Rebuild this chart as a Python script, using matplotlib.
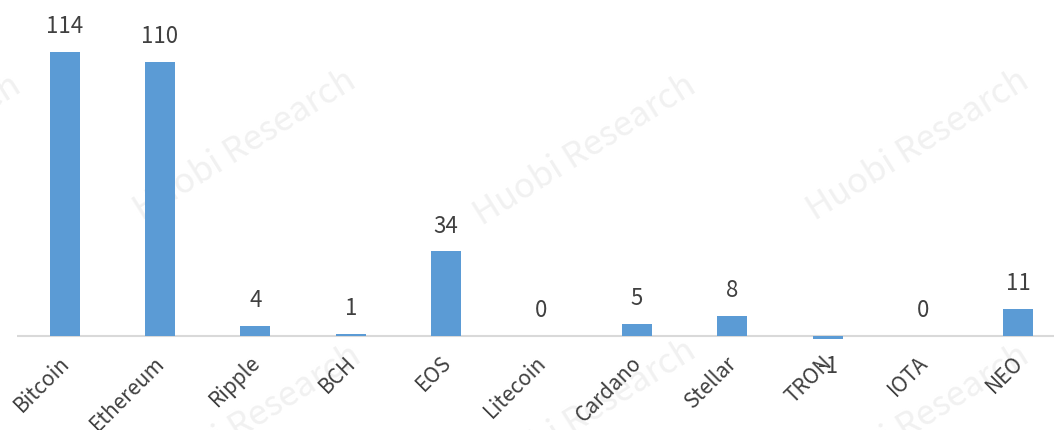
import matplotlib.pyplot as plt
import matplotlib.transforms as mtransforms
import numpy as np

plt.rcParams['font.family'] = ['Noto Sans CJK SC', 'DejaVu Sans']

# data
coins = ['Bitcoin', 'Ethereum', 'Ripple', 'BCH', 'EOS', 'Litecoin',
         'Cardano', 'Stellar', 'TRON', 'IOTA', 'NEO']
counts = [114, 110, 4, 1, 34, 0, 5, 8, -1, 0, 11]

BAR = '#5b9bd5'
TXT = '#404040'

fig = plt.figure(figsize=(10.54, 4.30), dpi=100)
ax = fig.add_axes([17 / 1054, 0.1895, 1049 / 1054, 0.8105])
ax.set_zorder(2)

# watermark, faint, behind the bars
for cx, cy in [(-90, 150), (245, 145), (585, 150), (918, 145),
               (-110, 410), (250, 420), (585, 415), (918, 420)]:
    fig.text(cx / 1054, 1 - cy / 430, 'Huobi Research', fontsize=25,
             color='#f1f1f1', rotation=32, ha='center', va='center',
             zorder=-1)

x = np.arange(len(coins))
ax.bar(x, counts, width=0.315, color=BAR, zorder=2)
ax.axhline(0, color='#d9d9d9', lw=1.5, zorder=1)

for xi, v in zip(x, counts):
    if v < 0:
        ax.annotate(str(v), (xi, v), xytext=(0, -12), textcoords='offset points',
                    ha='center', va='top', fontsize=16, color=TXT)
    else:
        ax.annotate(str(v), (xi, v), xytext=(0, 10), textcoords='offset points',
                    ha='center', va='bottom', fontsize=16, color=TXT)

ax.set_xlim(-0.5, 10.5)
ax.set_ylim(-5, 135)
ax.set_xticks(x)
ax.set_xticklabels(coins, rotation=45, ha='right', rotation_mode='anchor',
                   fontsize=15, color=TXT)
ax.tick_params(axis='x', length=0, pad=-2)
shift = mtransforms.ScaledTranslation(-6 / 100, -6 / 100, fig.dpi_scale_trans)
for lab in ax.get_xticklabels():
    lab.set_transform(lab.get_transform() + shift)
ax.set_yticks([])
for s in ax.spines.values():
    s.set_visible(False)
ax.patch.set_alpha(0)

fig.savefig('out.png', dpi=100)
